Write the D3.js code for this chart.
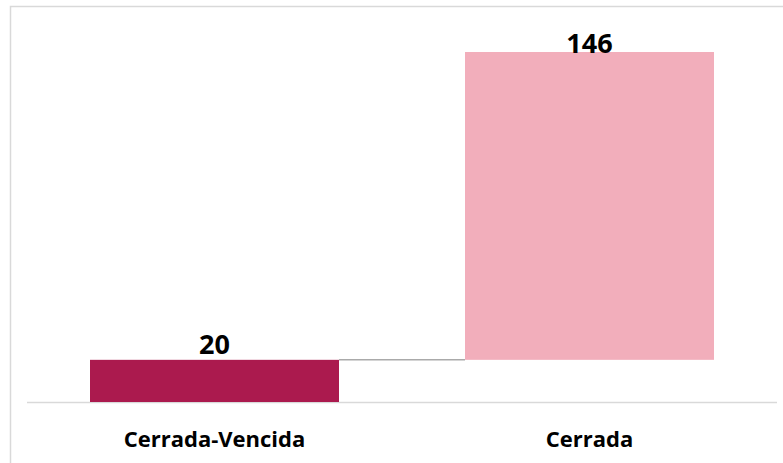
<!DOCTYPE html>
<html>
<head>
<meta charset="utf-8">
<script src="https://cdn.jsdelivr.net/npm/d3@7"></script>
<style>
  body { margin: 0; background: #fff; }
  svg text { font-family: "Open Sans", "Noto Sans", sans-serif; font-weight: bold; fill: #000; }
</style>
</head>
<body>
<div id="chart"></div>
<script>
// waterfall data
var categories = ["Cerrada-Vencida", "Cerrada"];
var values = [20, 146];
var colors = ["#ab1a4e", "#f2aebb"];

var svgWidth = 783, svgHeight = 463;

var svg = d3.select("#chart").append("svg")
	.attr("width", svgWidth)
	.attr("height", svgHeight);

// outer frame (only top and left visible)
svg.append("path")
	.attr("d", "M10.5," + svgHeight + "V6.5H" + svgWidth)
	.attr("fill", "none")
	.attr("stroke", "#d9d9d9")
	.attr("stroke-width", 1.5);

// running totals
var starts = [], ends = [];
var total = 0;
values.forEach(function(v) {
	starts.push(total);
	total += v;
	ends.push(total);
});

var x = d3.scaleBand()
	.domain(categories)
	.range([27, 777])
	.paddingInner(0.336)
	.paddingOuter(0.168);

var y = d3.scaleLinear()
	.domain([0, total])
	.range([402, 52]);

// baseline
svg.append("line")
	.attr("x1", 27).attr("x2", 777)
	.attr("y1", y(0) + 0.5).attr("y2", y(0) + 0.5)
	.attr("stroke", "#d9d9d9")
	.attr("stroke-width", 1.5);

// connectors
for (var i = 0; i < categories.length - 1; i++) {
	svg.append("line")
		.attr("x1", x(categories[i]) + x.bandwidth())
		.attr("x2", x(categories[i + 1]))
		.attr("y1", y(ends[i]))
		.attr("y2", y(ends[i]))
		.attr("stroke", "#aaaaaa")
		.attr("stroke-width", 1.5);
}

svg.selectAll(".bar")
	.data(categories)
	.enter().append("rect")
	.attr("class", "bar")
	.attr("x", function(d) { return x(d); })
	.attr("width", x.bandwidth())
	.attr("y", function(d, i) { return y(ends[i]); })
	.attr("height", function(d, i) { return y(starts[i]) - y(ends[i]); })
	.attr("fill", function(d, i) { return colors[i]; });

// labels are kept inside the plot area, so the top one overlaps its bar
svg.selectAll(".val")
	.data(categories)
	.enter().append("text")
	.attr("class", "val")
	.attr("x", function(d) { return x(d) + x.bandwidth() / 2; })
	.attr("y", function(d, i) { return Math.max(y(ends[i]) - 6, 53); })
	.attr("text-anchor", "middle")
	.style("font-size", "27px")
	.text(function(d, i) { return values[i]; });

svg.selectAll(".cat")
	.data(categories)
	.enter().append("text")
	.attr("class", "cat")
	.attr("x", function(d) { return x(d) + x.bandwidth() / 2; })
	.attr("y", 447)
	.attr("text-anchor", "middle")
	.style("font-size", "22px")
	.text(function(d) { return d; });
</script>
</body>
</html>
